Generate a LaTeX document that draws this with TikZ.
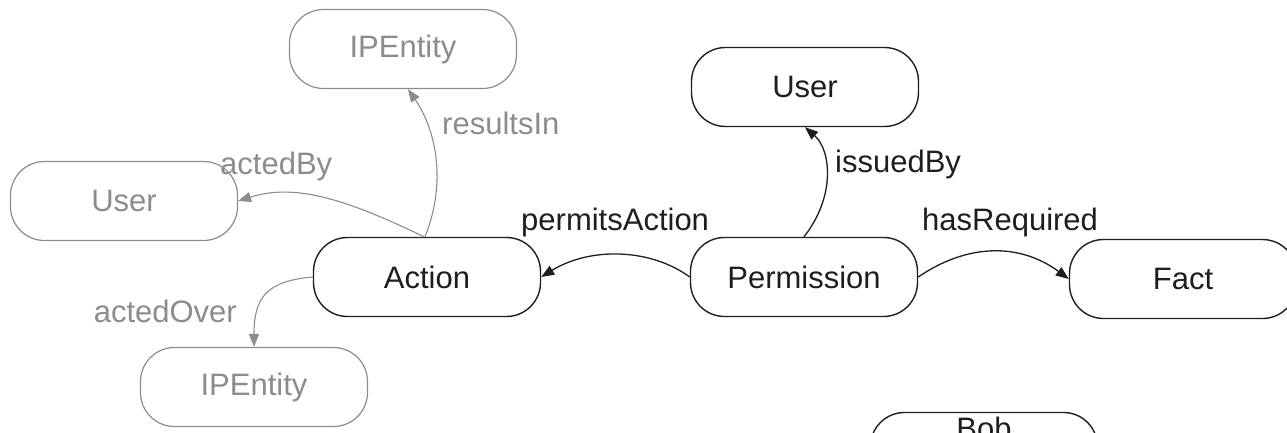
\documentclass[tikz,border=0pt]{standalone}
\usepackage{fontspec}
\setmainfont{Liberation Sans}
\usetikzlibrary{arrows.meta,calc}
\definecolor{faded}{HTML}{8C8C8C}
\definecolor{ink}{HTML}{1E1E1E}
\tikzset{
  concept/.style={draw=ink, line width=1.4pt, rounded corners=34pt,
    minimum width=227pt, minimum height=79pt, inner sep=0pt,
    text=ink, font=\fontsize{31}{36}\selectfont},
  fadedconcept/.style={concept, draw=faded, line width=1.2pt, text=faded},
  rel/.style={draw=ink, line width=1.3pt,
    -{Triangle[length=13pt,width=10pt]}},
  fadedrel/.style={rel, draw=faded, line width=1.1pt, fill=none},
  rellabel/.style={anchor=base west, inner sep=0pt, text=ink,
    font=\fontsize{31}{36}\selectfont},
  fadedlabel/.style={rellabel, text=faded},
}
\begin{document}
\begin{tikzpicture}[x=1pt,y=-1pt]
  \useasboundingbox (0,0) rectangle (1287,433);

  % concepts
  \node[fadedconcept] (ipTop)  at (403,49)  {IPEntity};
  \node[fadedconcept] (userL)  at (124,201) {User};
  \node[concept]      (action) at (427,277) {Action};
  \node[concept]      (perm)   at (804,277) {Permission};
  \node[concept]      (userT)  at (805,87)  {User};
  \node[concept]      (fact)   at (1183,279) {Fact};
  \node[fadedconcept] (ipBot)  at (254,387) {IPEntity};
  \node[concept]      (bob)    at (984,452) {};
  \node[rellabel, anchor=base] (bobText) at (984,439) {Bob};

  % relations of the action
  \draw[fadedrel] ($(action.north)+(-2,0)$) .. controls (447,182) and (436,130) .. ($(ipTop.south)+(5,0)$);
  \draw[fadedrel] ($(action.north)+(-3,0)$) .. controls (340,196) and (292,184) .. (userL.east);
  \draw[fadedrel] (action.west) .. controls (268,281) and (254,296) .. (ipBot.north);

  % relations of the permission
  \draw[rel] (perm.west) .. controls (650,248) and (590,247) .. (action.east);
  \draw[rel] (perm.north) .. controls (836,196) and (831,150) .. (userT.south);
  \draw[rel] (perm.east) .. controls (968,243) and (1020,243) .. (fact.west);

  % relation labels
  \node[fadedlabel] (lResults) at (442,135) {resultsIn};
  \node[fadedlabel] (lActedBy) at (220,174) {actedBy};
  \node[fadedlabel, anchor=base east] (lOver) at (237,322) {actedOver};
  \node[rellabel]   (lPermits) at (521,230) {permitsAction};
  \node[rellabel]   (lIssued)  at (835,172) {issuedBy};
  \node[rellabel]   (lReq)     at (922,230) {hasRequired};
\end{tikzpicture}
\end{document}
